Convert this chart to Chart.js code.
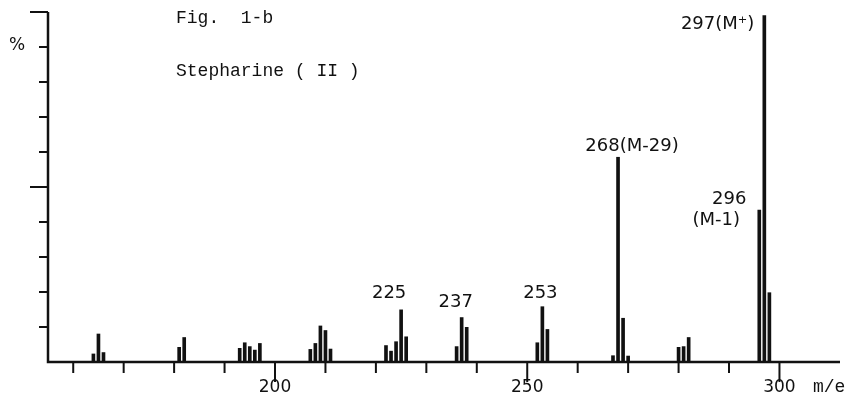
<!DOCTYPE html>
<html>
<head>
<meta charset="utf-8">
<script src="https://cdn.jsdelivr.net/npm/chart.js@4"></script>
<style>
  body { margin: 0; background: #fff; }
  canvas { display: block; }
</style>
</head>
<body>
<canvas id="spectrum" width="850" height="398"></canvas>
<script>
// mass spectrum of Stepharine (II)
const massNumbers = [164, 165, 166, 181, 182, 193, 194, 195, 196, 197,
    207, 208, 209, 210, 211, 222, 223, 224, 225, 226,
    236, 237, 238, 252, 253, 254, 267, 268, 269, 270,
    280, 281, 282, 296, 297, 298];
const intensities = [2.3, 8, 2.7, 4.2, 7, 3.9, 5.5, 4.4, 3.4, 5.3,
    3.6, 5.3, 10.3, 9, 3.7, 4.7, 3.1, 5.8, 14.9, 7.2,
    4.4, 12.7, 9.9, 5.5, 15.8, 9.3, 1.8, 58.5, 12.5, 1.7,
    4.2, 4.4, 7, 43.4, 99, 19.8];

const xTicks = [160, 170, 180, 190, 200, 210, 220, 230, 240, 250, 260, 270, 280, 290, 300];
const xTickLabels = ["200", "250", "300"];
const yTicks = [10, 20, 30, 40, 50, 60, 70, 80, 90, 100];

const labelledPeaks = [225, 237, 253, 268, 296, 297];
const peakTexts = [["225"], ["237"], ["253"], ["268(M-29)"], ["296", "(M-1)"], ["297(M\u207A)"]];

const ink = "#111";
const letterFont = "18px 'DejaVu Sans'";
const typeFont = "18px 'Liberation Mono'";

// where each peak label sits relative to the top of its bar
const labelOffsets = {
    225: { dx: -12, dy: -17, align: "center" },
    237: { dx: -6, dy: -15, align: "center" },
    253: { dx: -2, dy: -13, align: "center" },
    268: { dx: 14, dy: -11, align: "center" },
    296: { dx: -30, dy: -11, align: "center", lineGap: 21, shift2: -13 },
    297: { dx: -10, dy: 9, align: "right" }
};

const spectrumAxes = {
    id: "spectrumAxes",
    afterDraw(chart) {
        const ctx = chart.ctx;
        const area = chart.chartArea;
        const xs = chart.scales.x;
        const ys = chart.scales.y;
        ctx.save();
        ctx.strokeStyle = ink;
        ctx.fillStyle = ink;
        ctx.lineWidth = 2.5;

        // axes
        ctx.beginPath();
        ctx.moveTo(area.left, area.top);
        ctx.lineTo(area.left, area.bottom);
        ctx.lineTo(area.right, area.bottom);
        ctx.stroke();

        ctx.lineWidth = 2;
        yTicks.forEach(v => {
            const y = ys.getPixelForValue(v);
            const len = v % 50 === 0 ? 18 : 9;
            ctx.beginPath();
            ctx.moveTo(area.left - len, y);
            ctx.lineTo(area.left, y);
            ctx.stroke();
        });

        xTicks.forEach(v => {
            const x = xs.getPixelForValue(v);
            const len = v % 50 === 0 ? 20 : 11;
            ctx.beginPath();
            ctx.moveTo(x, area.bottom);
            ctx.lineTo(x, area.bottom + len);
            ctx.stroke();
        });

        ctx.font = "17px 'DejaVu Sans'";
        ctx.textAlign = "center";
        ctx.textBaseline = "middle";
        xTickLabels.forEach(t => {
            ctx.fillText(t, xs.getPixelForValue(Number(t)), area.bottom + 26);
        });
        ctx.textAlign = "left";
        ctx.font = typeFont;
        ctx.fillText("m/e", 813, area.bottom + 25);
        ctx.font = "17px 'DejaVu Sans'";
        ctx.fillText("%", 9, 46);

        // title in typewriter text
        ctx.font = typeFont;
        ctx.fillText("Fig.  1-b", 176, 18);
        ctx.fillText("Stepharine ( II )", 176, 71);

        // peak labels
        ctx.font = letterFont;
        labelledPeaks.forEach((m, i) => {
            const idx = massNumbers.indexOf(m);
            const x = xs.getPixelForValue(m);
            const top = ys.getPixelForValue(intensities[idx]);
            const o = labelOffsets[m];
            ctx.textAlign = o.align;
            peakTexts[i].forEach((line, j) => {
                const lx = x + o.dx + (j > 0 ? (o.shift2 || 0) : 0);
                const ly = top + o.dy + j * (o.lineGap || 20);
                ctx.fillText(line, lx, ly);
            });
        });
        ctx.restore();
    }
};

new Chart(document.getElementById("spectrum"), {
    type: "bar",
    data: {
        datasets: [{
            data: massNumbers.map((m, i) => ({ x: m, y: intensities[i] })),
            backgroundColor: ink,
            borderWidth: 0,
            barThickness: 3
        }]
    },
    options: {
        responsive: false,
        animation: false,
        layout: { padding: { left: 48, right: 10, top: 12, bottom: 36 } },
        scales: {
            x: { type: "linear", min: 155, max: 312, offset: false, display: false },
            y: { min: 0, max: 100, display: false }
        },
        plugins: {
            legend: { display: false },
            tooltip: { enabled: false }
        }
    },
    plugins: [spectrumAxes]
});
</script>
</body>
</html>
